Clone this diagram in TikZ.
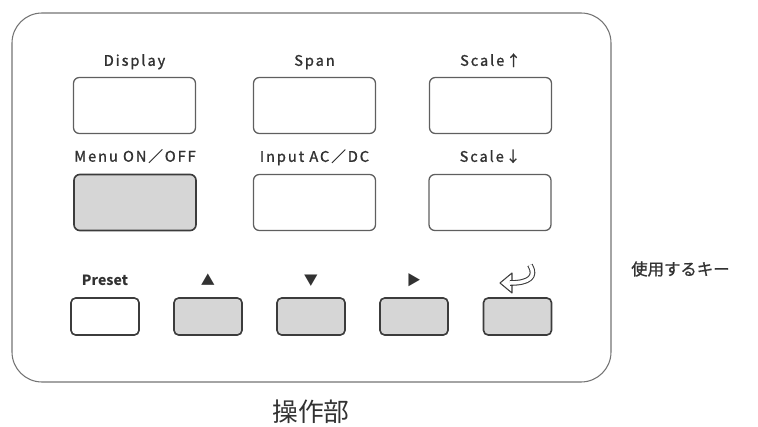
\documentclass[tikz,border=0pt]{standalone}
\usepackage{fontspec}
\setmainfont{Noto Sans CJK JP}
\newfontfamily\keyfont[LetterSpace=13,FakeBold=1.2]{Noto Sans CJK JP}
\newfontfamily\capfont[FakeBold=0.8]{Noto Sans CJK JP}
\usetikzlibrary{positioning}
\definecolor{panelLine}{RGB}{115,115,115}
\definecolor{keyLine}{RGB}{95,95,95}
\definecolor{keyDark}{RGB}{60,60,60}
\definecolor{keyShade}{RGB}{214,214,214}
\definecolor{labelInk}{RGB}{50,50,50}

\tikzset{
  keybig/.style={draw=keyLine,line width=1.1pt,rounded corners=5pt,
    minimum width=3.66cm,minimum height=1.68cm,inner sep=0pt},
  keysmall/.style={draw=keyDark,line width=1.4pt,rounded corners=4pt,
    minimum width=2.04cm,minimum height=1.11cm,inner sep=0pt},
  keyon/.style={fill=keyShade,draw=keyDark,line width=1.4pt},
  keylabel/.style={text=labelInk,inner sep=0pt,
    font=\keyfont\fontsize{12.5}{14}\selectfont},
  smalllabel/.style={text=labelInk,inner sep=0pt,
    font=\fontsize{12}{13}\selectfont},
}

\begin{document}
\begin{tikzpicture}[x=0.03cm,y=-0.03cm,line join=round]

% canvas 758 x 427 px
\path[use as bounding box] (0,0) rectangle (758,427);

% panel outline
\draw[panelLine,line width=0.9pt,rounded corners=9mm] (12,13) rectangle (611,382);

% upper keys
\node[keybig] (display) at (134.5,105.5) {};
\node[keybig] (span) at (314.5,105.5) {};
\node[keybig] (scaleup) at (490.5,105.5) {};
\node[keybig,keyon] (menu) at (135,202.5) {};
\node[keybig] (input) at (314.5,202.5) {};
\node[keybig] (scaledown) at (490,202.5) {};

% upper labels
\node[keylabel,above=0.33cm of display.north,anchor=base] (displaylbl) {Display};
\node[keylabel,above=0.33cm of span.north,anchor=base] (spanlbl) {Span};
\node[keylabel,above=0.33cm of scaleup.north,anchor=base] (scaleuplbl) {Scale↑};
\node[keylabel,above=0.36cm of menu.north,anchor=base] (menulbl) {Menu ON／OFF};
\node[keylabel,above=0.36cm of input.north,anchor=base] (inputlbl) {Input AC／DC};
\node[keylabel,above=0.36cm of scaledown.north,anchor=base] (scaledownlbl) {Scale↓};

% lower keys
\node[keysmall] (preset) at (105,316.5) {};
\node[keysmall,keyon] (up) at (208,316.5) {};
\node[keysmall,keyon] (down) at (311,316.5) {};
\node[keysmall,keyon] (right) at (414,316.5) {};
\node[keysmall,keyon] (enter) at (517.5,316.5) {};

% lower labels
\node[smalllabel,above=0.36cm of preset.north,anchor=base] (presetlbl) {\bfseries Preset};
\node[smalllabel,above=0.36cm of up.north,anchor=base] (uplbl) {▲};
\node[smalllabel,above=0.36cm of down.north,anchor=base] (downlbl) {▼};
\node[smalllabel,above=0.36cm of right.north,anchor=base] (rightlbl) {▶};

% return symbol above the enter key
\coordinate (entertip) at (500,283);
\draw[keyDark,line width=0.9pt,fill=white] (512,273) -- (entertip) -- (512,293) -- cycle;
\draw[keyDark,double=white,double distance=3pt,line width=0.9pt]
  (530,265) .. controls (537,277) and (529,283) .. (510,283);

% captions
\node[anchor=west,inner sep=0pt,text=labelInk,font=\capfont\fontsize{14}{15}\selectfont]
  (usedkeys) at (631,269) {使用するキー};
\node[inner sep=0pt,text=labelInk,font=\fontsize{22}{24}\selectfont]
  (panelcap) at (311,412) {操作部};

\end{tikzpicture}
\end{document}
